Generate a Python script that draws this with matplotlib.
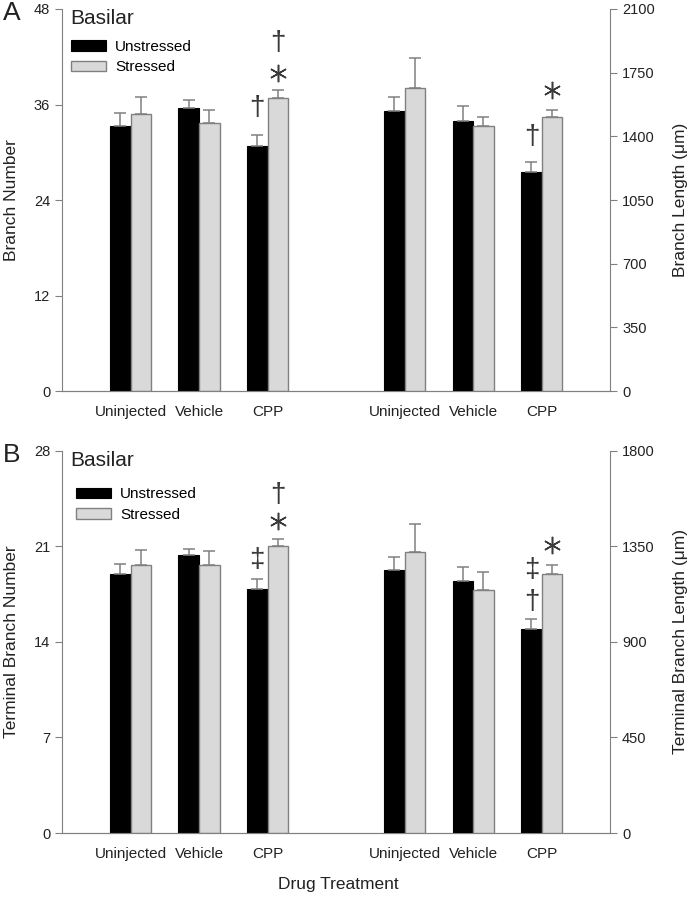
import numpy as np
import matplotlib.pyplot as plt

plt.rcParams['font.family'] = ['Liberation Sans', 'DejaVu Sans']

groups = ["Uninjected", "Vehicle", "CPP"]

# panel A: branch number (left axis) and branch length (right axis)
a_num_unstr = [33.3, 35.5, 30.8]
a_num_unstr_err = [1.6, 1.1, 1.4]
a_num_str = [34.8, 33.7, 36.8]
a_num_str_err = [2.2, 1.6, 1.0]
a_len_unstr = [1540, 1485, 1206]
a_len_unstr_err = [77, 83, 55]
a_len_str = [1663, 1456, 1507]
a_len_str_err = [167, 51, 39]

# panel B: terminal branch number and terminal branch length
b_num_unstr = [18.95, 20.4, 17.9]
b_num_unstr_err = [0.8, 0.45, 0.7]
b_num_str = [19.65, 19.65, 21.05]
b_num_str_err = [1.1, 1.0, 0.5]
b_len_unstr = [1237, 1188, 963]
b_len_unstr_err = [63, 66, 47]
b_len_str = [1325, 1146, 1218]
b_len_str_err = [130, 83, 43]

# significance marks: (group index, series 0=unstressed 1=stressed, symbol, y)
a_num_marks = [(2, 0, "\u2020", 35.5), (2, 1, "*", 40.0), (2, 1, "\u2020", 43.7)]
a_len_marks = [(2, 0, "\u2020", 1396), (2, 1, "*", 1655)]
b_num_marks = [(2, 0, "\u2021", 20.0), (2, 1, "*", 22.9), (2, 1, "\u2020", 24.8)]
b_len_marks = [(2, 0, "\u2020", 1088), (2, 0, "\u2021", 1239), (2, 1, "*", 1357)]

GREY = '#808080'
TXT = '#222222'
MARK = '#3a3a3a'
w = 0.3
left_x = np.arange(3)
right_x = np.arange(3) + 4


def draw_pair(ax, xs, unstr, unstr_err, strs, str_err):
    ax.bar(xs - w / 2, unstr, w, color='black', edgecolor='black', linewidth=0.8,
           yerr=[np.zeros(3), unstr_err], ecolor=GREY, capsize=4.5,
           error_kw=dict(elinewidth=1.1, capthick=1.1), label="Unstressed", zorder=3)
    ax.bar(xs + w / 2, strs, w, color='#d9d9d9', edgecolor=GREY, linewidth=1,
           yerr=[np.zeros(3), str_err], ecolor=GREY, capsize=4.5,
           error_kw=dict(elinewidth=1.1, capthick=1.1), label="Stressed", zorder=3)


def add_marks(ax, xs, marks):
    for gi, s, sym, y in marks:
        x = xs[gi] + (w / 2 if s else -w / 2)
        if sym == "*":
            # thin six-spoke asterisk
            ax.plot([x], [y], marker=(6, 2, 0), markersize=12.5, markeredgewidth=1.1,
                    color=MARK, linestyle='none', zorder=4)
        else:
            ax.text(x, y, sym, ha='center', va='center', fontsize=20, color=MARK)


def style(ax, ax2, ymax, ystep, rmax, rstep):
    ax.set_xlim(-1, 7)
    ax.set_ylim(0, ymax)
    ax.set_yticks(np.arange(0, ymax + 1, ystep))
    ax2.set_ylim(0, rmax)
    ax2.set_yticks(np.arange(0, rmax + 1, rstep))
    ax.set_xticks(list(left_x) + list(right_x))
    ax.set_xticklabels(groups + groups, fontsize=11, color=TXT)
    ax.tick_params(axis='x', length=0, pad=10)
    for a in (ax, ax2):
        a.spines['top'].set_visible(False)
        for sp in a.spines.values():
            sp.set_color(GREY)
        a.tick_params(axis='y', colors=GREY, labelcolor=TXT, labelsize=10.5, length=5)
    ax.spines['right'].set_visible(False)
    ax2.spines['left'].set_visible(False)


fig = plt.figure(figsize=(6.94, 8.99), dpi=100)

for i, (num_u, num_ue, num_s, num_se, len_u, len_ue, len_s, len_se,
        num_m, len_m, ymax, ystep, rmax, rstep, ylab, rlab, letter, bottom) in enumerate([
    (a_num_unstr, a_num_unstr_err, a_num_str, a_num_str_err,
     a_len_unstr, a_len_unstr_err, a_len_str, a_len_str_err,
     a_num_marks, a_len_marks, 48, 12, 2100, 350,
     "Branch Number", "Branch Length (\u03bcm)", "A", 0.565),
    (b_num_unstr, b_num_unstr_err, b_num_str, b_num_str_err,
     b_len_unstr, b_len_unstr_err, b_len_str, b_len_str_err,
     b_num_marks, b_len_marks, 28, 7, 1800, 450,
     "Terminal Branch Number", "Terminal Branch Length (\u03bcm)", "B", 0.0734)]):
    ax = fig.add_axes([0.0893, bottom, 0.79, 0.425])
    ax2 = ax.twinx()
    draw_pair(ax, left_x, num_u, num_ue, num_s, num_se)
    draw_pair(ax2, right_x, len_u, len_ue, len_s, len_se)
    add_marks(ax, left_x, num_m)
    add_marks(ax2, right_x, len_m)
    style(ax, ax2, ymax, ystep, rmax, rstep)
    ax.set_ylabel(ylab, fontsize=12.5, color=TXT)
    ax.yaxis.set_label_coords(-0.078, 0.5)
    ax2.set_ylabel(rlab, fontsize=12.5, color=TXT)
    ax2.yaxis.set_label_coords(1.115, 0.5)
    ax.text(0.015, 0.975, "Basilar", transform=ax.transAxes, fontsize=15,
            color=TXT, ha='left', va='center')
    anchor = (0.016, 0.92) if i == 0 else (0.025, 0.905)
    ax.legend(loc='upper left', bbox_to_anchor=anchor, frameon=False, fontsize=11,
              handlelength=2.3, handleheight=0.7, handletextpad=0.6,
              labelspacing=0.45, borderpad=0, borderaxespad=0)
    fig.text(0.004, bottom + 0.425 - 0.005, letter, fontsize=19, color=TXT,
             ha='left', va='center')

fig.text(0.487, 0.016, "Drug Treatment", fontsize=12.5, color=TXT, ha='center', va='center')

fig.savefig("out.png", dpi=100)
